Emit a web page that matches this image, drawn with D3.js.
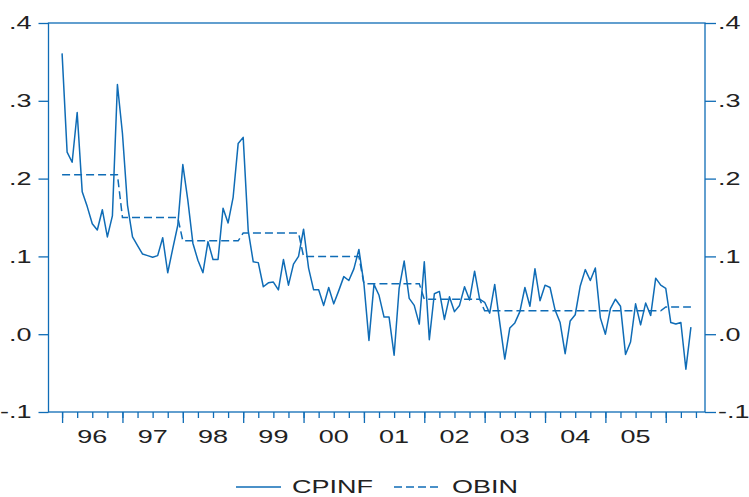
<!DOCTYPE html>
<html>
<head>
<meta charset="utf-8">
<script src="https://cdn.jsdelivr.net/npm/d3@7"></script>
<style>
body { margin: 0; background: #fff; }
text { font-family: "Liberation Sans", Arial, sans-serif; fill: #222; }
</style>
</head>
<body>
<script>
const WIDTH = 749;
const HEIGHT = 497;
const LEFT = 48.5, RIGHT = 705, TOP = 23, BOTTOM = 412;
const BLUE = '#0f6cb6';
const FONT = 18, STRETCH = 1.5;

// monthly, 1996M01 .. 2006M06
var cpinf = [
	0.361, 0.234, 0.221, 0.285, 0.183, 0.164, 0.142, 0.134, 0.160, 0.125, 0.152, 0.321,
	0.258, 0.166, 0.125, 0.114, 0.103, 0.101, 0.099, 0.101, 0.124, 0.079, 0.110, 0.140,
	0.218, 0.172, 0.117, 0.095, 0.079, 0.119, 0.096, 0.096, 0.162, 0.143, 0.176, 0.245,
	0.253, 0.133, 0.093, 0.092, 0.061, 0.066, 0.067, 0.057, 0.096, 0.063, 0.090, 0.100,
	0.135, 0.085, 0.057, 0.057, 0.037, 0.060, 0.039, 0.056, 0.074, 0.069, 0.084, 0.109,
	0.065, -0.008, 0.064, 0.050, 0.022, 0.022, -0.027, 0.059, 0.094, 0.046, 0.037, 0.013,
	0.093, -0.007, 0.052, 0.055, 0.019, 0.048, 0.029, 0.037, 0.061, 0.044, 0.081, 0.045,
	0.041, 0.027, 0.064, 0.015, -0.032, 0.008, 0.0145, 0.029, 0.060, 0.036, 0.084, 0.043,
	0.063, 0.060, 0.031, 0.015, -0.025, 0.017, 0.025, 0.062, 0.083, 0.069, 0.085, 0.021,
	0.000, 0.033, 0.045, 0.036, -0.026, -0.010, 0.039, 0.012, 0.040, 0.024, 0.072, 0.063,
	0.059, 0.015, 0.013, 0.015, -0.045, 0.009
];
// one value per year, 1996 .. 2006
var obinByYear = [0.205, 0.150, 0.120, 0.130, 0.100, 0.065, 0.045, 0.030, 0.030, 0.030, 0.035];
var yearLabels = ['96', '97', '98', '99', '00', '01', '02', '03', '04', '05'];
var yTicks = [-0.1, 0.0, 0.1, 0.2, 0.3, 0.4];
var yTickLabels = ['-.1', '.0', '.1', '.2', '.3', '.4'];
var seriesNames = ['CPINF', 'OBIN'];

var cpinfPoints = cpinf.map(function(v, i){ return {m: i, v: v}; });
var obinPoints = cpinf.map(function(v, i){ return {m: i, v: obinByYear[Math.floor(i/12)]}; });

var svg = d3.select('body').append('svg')
	.attr('width', WIDTH)
	.attr('height', HEIGHT);

var x = d3.scaleLinear().domain([-2.7, 127.8]).range([LEFT, RIGHT]);
var y = d3.scaleLinear().domain([-0.1, 0.4]).range([BOTTOM, TOP]);

var label = function(px, py, txt, anchor){
	svg.append('text')
		.attr('transform', 'translate(' + px + ',' + py + ') scale(' + STRETCH + ',1)')
		.attr('text-anchor', anchor)
		.attr('dy', '0.36em')
		.style('font-size', FONT + 'px')
		.text(txt);
};

// y axes, both sides
var yLeft = d3.axisLeft(y).tickValues(yTicks).tickSize(10).tickFormat('');
svg.append('g').attr('transform', 'translate(' + LEFT + ',0)').call(yLeft);
var yRight = d3.axisRight(y).tickValues(yTicks).tickSize(11).tickFormat('');
svg.append('g').attr('transform', 'translate(' + RIGHT + ',0)').call(yRight);
yTicks.forEach(function(t, i){
	label(LEFT - 17, y(t), yTickLabels[i], 'end');
	label(RIGHT + 13, y(t), yTickLabels[i], 'start');
});

// x axis: quarter ticks short, year ticks long
var quarters = d3.range(0, 127, 3);
var years = d3.range(0, 127, 12);
svg.append('g').attr('transform', 'translate(0,' + BOTTOM + ')')
	.call(d3.axisBottom(x).tickValues(quarters).tickSize(6).tickFormat(''));
svg.append('g').attr('transform', 'translate(0,' + BOTTOM + ')')
	.call(d3.axisBottom(x).tickValues(years).tickSize(11).tickFormat(''));
yearLabels.forEach(function(s, i){
	label(x(6 + 12*i), 437, s, 'middle');
});

svg.selectAll('.domain').remove();
svg.selectAll('.tick line').attr('stroke', BLUE).attr('stroke-width', 1.3);

// frame
svg.append('rect')
	.attr('x', LEFT).attr('y', TOP)
	.attr('width', RIGHT - LEFT).attr('height', BOTTOM - TOP)
	.attr('fill', 'none').attr('stroke', BLUE).attr('stroke-width', 1.3);

var line = d3.line()
	.x(function(d){ return x(d.m); })
	.y(function(d){ return y(d.v); });

svg.append('path').attr('d', line(obinPoints))
	.attr('fill', 'none').attr('stroke', BLUE).attr('stroke-width', 1.5)
	.attr('stroke-dasharray', '8,4');
svg.append('path').attr('d', line(cpinfPoints))
	.attr('fill', 'none').attr('stroke', BLUE).attr('stroke-width', 1.5)
	.attr('stroke-linejoin', 'round');

// legend
var LEG_Y = 487;
svg.append('line').attr('x1', 236).attr('x2', 281).attr('y1', LEG_Y).attr('y2', LEG_Y)
	.attr('stroke', BLUE).attr('stroke-width', 1.5);
label(292, LEG_Y, seriesNames[0], 'start');
svg.append('line').attr('x1', 394).attr('x2', 442).attr('y1', LEG_Y).attr('y2', LEG_Y)
	.attr('stroke', BLUE).attr('stroke-width', 1.5).attr('stroke-dasharray', '8,4');
label(452, LEG_Y, seriesNames[1], 'start');
</script>
</body>
</html>
